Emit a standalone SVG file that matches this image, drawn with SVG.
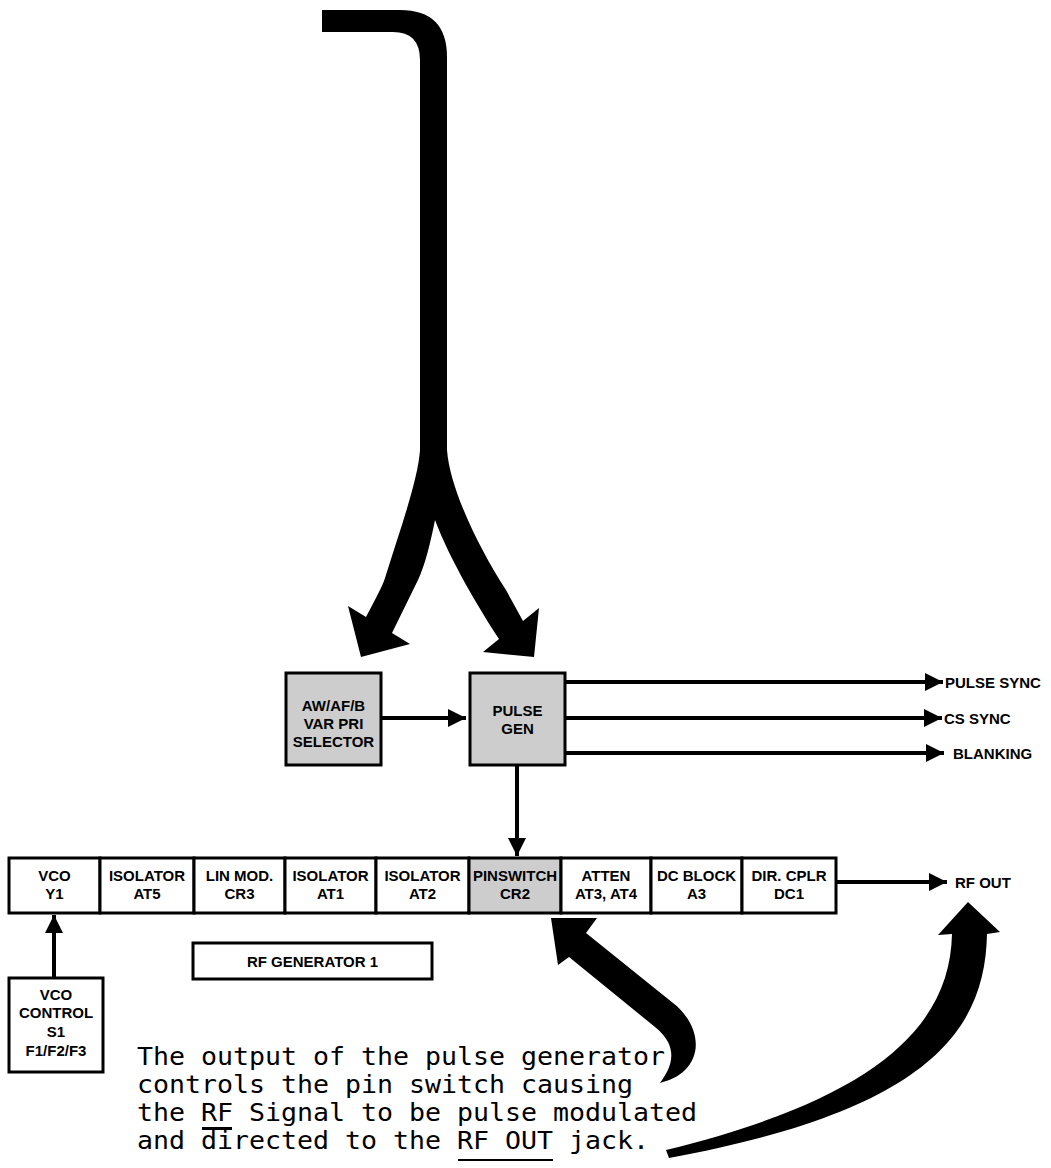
<svg xmlns="http://www.w3.org/2000/svg" width="1051" height="1168" viewBox="0 0 1051 1168">
<style>
.box{fill:#fff;stroke:#000;stroke-width:3}
.gray{fill:#cdcdcd;stroke:#000;stroke-width:3}
.lbl{font-family:"Liberation Sans",Arial,sans-serif;font-weight:bold;font-size:15px;fill:#000}
.mid{text-anchor:middle}
.ln{stroke:#000;stroke-width:4;fill:none}
.thin{stroke:#000;stroke-width:2;fill:none}
.big{fill:#000;stroke:none}
.mono{font-family:"DejaVu Sans Mono","Liberation Mono",monospace;font-size:24px;fill:#000}
</style>
<defs>
<marker id="ah" viewBox="0 0 10 10" refX="10" refY="5" markerWidth="4.5" markerHeight="4.5" orient="auto" markerUnits="strokeWidth">
<path d="M0,0 L10,5 L0,10 Z" fill="#000"/>
</marker>
</defs>
<rect width="1051" height="1168" fill="#fff"/>

<g id="connectors">
<path class="big" d="M 322,10 L 400,10 Q 447,10 447,57 L 447,450 C 450,490 480,550 506,590 L 523,621 L 539,608 L 534,657 L 483,652 L 499,639 C 480,610 450,560 435,520 C 430,545 425,565 418,580 L 392,633 L 410,644 L 361,657 L 348,606 L 366,617 C 375,600 383,585 385,578 C 400,530 418,480 420,450 L 420,60 Q 420,32 393,32 L 322,32 Z"/>
<line class="ln" x1="382" y1="718" x2="466" y2="718" marker-end="url(#ah)"/>
<line class="ln" x1="565" y1="682" x2="943" y2="682" marker-end="url(#ah)"/>
<line class="ln" x1="565" y1="718" x2="942" y2="718" marker-end="url(#ah)"/>
<line class="ln" x1="565" y1="753" x2="944" y2="753" marker-end="url(#ah)"/>
<line class="ln" x1="517" y1="765" x2="517" y2="856" marker-end="url(#ah)"/>
<line class="ln" x1="837" y1="882" x2="947" y2="882" marker-end="url(#ah)"/>
<line class="ln" x1="54" y1="978" x2="54" y2="915" marker-end="url(#ah)"/>
<path class="big" d="M 551,918 L 597,918 L 586,933 L 673,1003 C 695,1020 705,1050 685,1070 C 678,1077 670,1080 660,1083 C 668,1072 676,1058 668,1042 C 664,1035 660,1031 655,1027 L 569,957 L 558,965 Z"/>
<path class="big" d="M 968,902 L 1000,932 L 987,934 C 985,1030 930,1110 669,1158 L 666,1150 C 870,1100 950,1030 952,934 L 938,935 Z"/>
</g>

<g id="awaf-selector">
<rect class="gray" x="286" y="673" width="95" height="92"/>
<text class="lbl mid" x="333.5" y="711">AW/AF/B</text>
<text class="lbl mid" x="333.5" y="729">VAR PRI</text>
<text class="lbl mid" x="333.5" y="747">SELECTOR</text>
</g>
<g id="pulse-gen">
<rect class="gray" x="470" y="673" width="95" height="92"/>
<text class="lbl mid" x="517.5" y="716">PULSE</text>
<text class="lbl mid" x="517.5" y="734">GEN</text>
</g>
<g id="out-labels">
<text class="lbl" x="945" y="688">PULSE SYNC</text>
<text class="lbl" x="944" y="724">CS SYNC</text>
<text class="lbl" x="953" y="759">BLANKING</text>
<text class="lbl" x="955" y="888">RF OUT</text>
</g>

<g id="vco">
<rect class="box" x="9" y="858" width="91" height="55"/>
<text class="lbl mid" x="54.5" y="881">VCO</text>
<text class="lbl mid" x="54.5" y="899">Y1</text>
</g>
<g id="isolator-at5">
<rect class="box" x="100" y="858" width="94" height="55"/>
<text class="lbl mid" x="147" y="881">ISOLATOR</text>
<text class="lbl mid" x="147" y="899">AT5</text>
</g>
<g id="lin-mod">
<rect class="box" x="194" y="858" width="91" height="55"/>
<text class="lbl mid" x="239.5" y="881">LIN MOD.</text>
<text class="lbl mid" x="239.5" y="899">CR3</text>
</g>
<g id="isolator-at1">
<rect class="box" x="285" y="858" width="91" height="55"/>
<text class="lbl mid" x="330.5" y="881">ISOLATOR</text>
<text class="lbl mid" x="330.5" y="899">AT1</text>
</g>
<g id="isolator-at2">
<rect class="box" x="376" y="858" width="93" height="55"/>
<text class="lbl mid" x="422.5" y="881">ISOLATOR</text>
<text class="lbl mid" x="422.5" y="899">AT2</text>
</g>
<g id="pinswitch">
<rect class="gray" x="469" y="858" width="92" height="55"/>
<text class="lbl mid" x="515" y="881">PINSWITCH</text>
<text class="lbl mid" x="515" y="899">CR2</text>
</g>
<g id="atten">
<rect class="box" x="561" y="858" width="90" height="55"/>
<text class="lbl mid" x="606" y="881">ATTEN</text>
<text class="lbl mid" x="606" y="899">AT3, AT4</text>
</g>
<g id="dc-block">
<rect class="box" x="651" y="858" width="91" height="55"/>
<text class="lbl mid" x="696.5" y="881">DC BLOCK</text>
<text class="lbl mid" x="696.5" y="899">A3</text>
</g>
<g id="dir-cplr">
<rect class="box" x="742" y="858" width="94" height="55"/>
<text class="lbl mid" x="789" y="881">DIR. CPLR</text>
<text class="lbl mid" x="789" y="899">DC1</text>
</g>

<g id="rf-generator-label">
<rect class="box" x="193" y="943" width="239" height="36"/>
<text class="lbl mid" x="312.5" y="967">RF GENERATOR 1</text>
</g>
<g id="vco-control">
<rect class="box" x="9" y="978" width="94" height="94"/>
<text class="lbl mid" x="56" y="1000">VCO</text>
<text class="lbl mid" x="56" y="1018">CONTROL</text>
<text class="lbl mid" x="56" y="1037">S1</text>
<text class="lbl mid" x="56" y="1056">F1/F2/F3</text>
</g>

<g id="caption">
<text class="mono" x="137" y="1065" textLength="528" lengthAdjust="spacingAndGlyphs">The output of the pulse generator</text>
<text class="mono" x="137" y="1093" textLength="496" lengthAdjust="spacingAndGlyphs">controls the pin switch causing</text>
<text class="mono" x="137" y="1121" textLength="560" lengthAdjust="spacingAndGlyphs">the RF Signal to be pulse modulated</text>
<text class="mono" x="137" y="1149" textLength="512" lengthAdjust="spacingAndGlyphs">and directed to the RF OUT jack.</text>
<line class="thin" x1="202" y1="1128" x2="232" y2="1128"/>
<line class="thin" x1="202" y1="1129" x2="232" y2="1129"/>
<line class="thin" x1="458" y1="1160" x2="553" y2="1160"/>
</g>
</svg>
